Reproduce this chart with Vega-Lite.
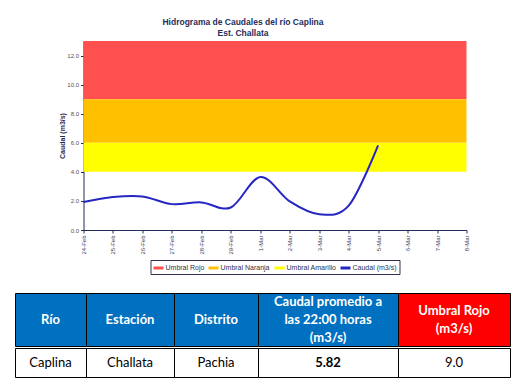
{
  "$schema": "https://vega.github.io/schema/vega-lite/v6.json",
  "background": "white",
  "padding": {"left": 14, "top": 18, "right": 0, "bottom": 0},
  "config": {"view": {"stroke": null}, "font": "Liberation Sans", "legend": {"layout": {"bottom": {"anchor": "middle"}}}},
  "center": true,
  "spacing": 17,
  "resolve": {"scale": {"color": "independent"}, "legend": {"color": "independent"}},
  "vconcat": [
    {
      "width": 383,
      "height": 189,
      "title": {"text": ["Hidrograma de Caudales del río Caplina", "Est. Challata"], "fontSize": 8.5, "fontWeight": "bold", "color": "#1F2D5A", "dx": -32, "offset": 4, "lineHeight": 10.5},
      "layer": [
        {
          "data": {"values": [
            {"serie": "Umbral Rojo", "desde": 9, "hasta": 13},
            {"serie": "Umbral Naranja", "desde": 6, "hasta": 9},
            {"serie": "Umbral Amarillo", "desde": 4, "hasta": 6}
          ]},
          "mark": {"type": "rect"},
          "encoding": {
            "y": {"field": "desde", "type": "quantitative",
              "scale": {"domain": [0, 13], "nice": false, "zero": true},
              "axis": {"title": "Caudal (m3/s)", "titleFontSize": 7, "titleFontWeight": "bold", "titleColor": "#1F2D5A", "values": [0, 2, 4, 6, 8, 10, 12], "format": ".1f", "labelOverlap": false, "labelFlush": false, "labelFontSize": 6, "labelColor": "#505060", "tickSize": 3, "tickColor": "#1F2D5A", "domainColor": "#1F2D5A", "grid": false, "titlePadding": 1}},
            "y2": {"field": "hasta"},
            "color": {"field": "serie", "type": "nominal"}
          }
        },
        {
          "data": {"values": [
            {"fecha": "24-Feb", "caudal": 1.92, "serie": "Caudal (m3/s)"},
            {"fecha": "25-Feb", "caudal": 2.27, "serie": "Caudal (m3/s)"},
            {"fecha": "26-Feb", "caudal": 2.31, "serie": "Caudal (m3/s)"},
            {"fecha": "27-Feb", "caudal": 1.78, "serie": "Caudal (m3/s)"},
            {"fecha": "28-Feb", "caudal": 1.9, "serie": "Caudal (m3/s)"},
            {"fecha": "29-Feb", "caudal": 1.55, "serie": "Caudal (m3/s)"},
            {"fecha": "1-Mar", "caudal": 3.65, "serie": "Caudal (m3/s)"},
            {"fecha": "2-Mar", "caudal": 1.97, "serie": "Caudal (m3/s)"},
            {"fecha": "3-Mar", "caudal": 1.09, "serie": "Caudal (m3/s)"},
            {"fecha": "4-Mar", "caudal": 1.67, "serie": "Caudal (m3/s)"},
            {"fecha": "5-Mar", "caudal": 5.82, "serie": "Caudal (m3/s)"}
          ]},
          "mark": {"type": "line", "interpolate": "cardinal", "strokeWidth": 2},
          "encoding": {
            "x": {
              "field": "fecha", "type": "ordinal",
              "scale": {"type": "point", "padding": 0, "domain": ["24-Feb","25-Feb","26-Feb","27-Feb","28-Feb","29-Feb","1-Mar","2-Mar","3-Mar","4-Mar","5-Mar","6-Mar","7-Mar","8-Mar"]},
              "axis": {"title": null, "labelAngle": 270, "labelFontSize": 6, "labelColor": "#404060", "labelOverlap": false, "tickSize": 3, "tickColor": "#1F2D5A", "domainColor": "#1F2D5A", "labelPadding": 2, "grid": false}
            },
            "y": {
              "field": "caudal", "type": "quantitative",
              "scale": {"domain": [0, 13], "nice": false, "zero": true},
              "axis": {"title": "Caudal (m3/s)", "titleFontSize": 7, "titleFontWeight": "bold", "titleColor": "#1F2D5A", "values": [0, 2, 4, 6, 8, 10, 12], "format": ".1f", "labelOverlap": false, "labelFlush": false, "labelFontSize": 6, "labelColor": "#505060", "tickSize": 3, "tickColor": "#1F2D5A", "domainColor": "#1F2D5A", "grid": false, "titlePadding": 1}
            },
            "color": {
              "field": "serie", "type": "nominal",
              "scale": {"domain": ["Umbral Rojo", "Umbral Naranja", "Umbral Amarillo", "Caudal (m3/s)"], "range": ["#FF5050", "#FFC000", "#FFFF00", "#2626C2"]},
              "legend": {"title": null, "orient": "bottom", "direction": "horizontal", "symbolType": "M-1,-0.3H1V0.3H-1Z", "symbolSize": 100, "symbolStrokeWidth": 0, "labelFontSize": 7, "labelColor": "#303050", "strokeColor": "#303050", "padding": 3, "columnPadding": 4, "labelOffset": 2, "offset": 5}
            }
          }
        }
      ]
    },
    {
      "spacing": 0,
      "vconcat": [
        {
          "spacing": 0,
          "bounds": "flush",
          "hconcat": [
            {"width": 71, "height": 53, "view": {"fill": "#0070C0", "stroke": "black", "strokeWidth": 1}, "data": {"values": [{"t": "Río"}]}, "mark": {"type": "text", "font": "Lato", "fontWeight": "bold", "fontSize": 13, "color": "white", "lineBreak": "\n", "lineHeight": 18}, "encoding": {"text": {"field": "t"}}},
            {"width": 88, "height": 53, "view": {"fill": "#0070C0", "stroke": "black", "strokeWidth": 1}, "data": {"values": [{"t": "Estación"}]}, "mark": {"type": "text", "font": "Lato", "fontWeight": "bold", "fontSize": 13, "color": "white", "lineBreak": "\n", "lineHeight": 18}, "encoding": {"text": {"field": "t"}}},
            {"width": 84, "height": 53, "view": {"fill": "#0070C0", "stroke": "black", "strokeWidth": 1}, "data": {"values": [{"t": "Distrito"}]}, "mark": {"type": "text", "font": "Lato", "fontWeight": "bold", "fontSize": 13, "color": "white", "lineBreak": "\n", "lineHeight": 18}, "encoding": {"text": {"field": "t"}}},
            {"width": 140, "height": 53, "view": {"fill": "#0070C0", "stroke": "black", "strokeWidth": 1}, "data": {"values": [{"t": "Caudal promedio a\nlas 22:00 horas\n(m3/s)"}]}, "mark": {"type": "text", "font": "Lato", "fontWeight": "bold", "fontSize": 13, "color": "white", "lineBreak": "\n", "lineHeight": 18, "dy": -18}, "encoding": {"text": {"field": "t"}}},
            {"width": 112, "height": 53, "view": {"fill": "#FF0000", "stroke": "black", "strokeWidth": 1}, "data": {"values": [{"t": "Umbral Rojo\n(m3/s)"}]}, "mark": {"type": "text", "font": "Lato", "fontWeight": "bold", "fontSize": 13, "color": "white", "lineBreak": "\n", "lineHeight": 18, "dy": -9}, "encoding": {"text": {"field": "t"}}},
            {"width": 28, "height": 53, "data": {"values": [{"t": ""}]}, "mark": {"type": "text"}, "encoding": {"text": {"field": "t"}}}
          ]
        },
        {
          "spacing": 0,
          "bounds": "flush",
          "hconcat": [
            {"width": 71, "height": 29, "view": {"fill": "white", "stroke": "black", "strokeWidth": 1}, "data": {"values": [{"t": "Caplina"}]}, "mark": {"type": "text", "font": "Lato", "fontSize": 13, "color": "black"}, "encoding": {"text": {"field": "t"}}},
            {"width": 88, "height": 29, "view": {"fill": "white", "stroke": "black", "strokeWidth": 1}, "data": {"values": [{"t": "Challata"}]}, "mark": {"type": "text", "font": "Lato", "fontSize": 13, "color": "black"}, "encoding": {"text": {"field": "t"}}},
            {"width": 84, "height": 29, "view": {"fill": "white", "stroke": "black", "strokeWidth": 1}, "data": {"values": [{"t": "Pachia"}]}, "mark": {"type": "text", "font": "Lato", "fontSize": 13, "color": "black"}, "encoding": {"text": {"field": "t"}}},
            {"width": 140, "height": 29, "view": {"fill": "white", "stroke": "black", "strokeWidth": 1}, "data": {"values": [{"t": "5.82"}]}, "mark": {"type": "text", "font": "Lato", "fontWeight": "bold", "fontSize": 13, "color": "black"}, "encoding": {"text": {"field": "t"}}},
            {"width": 112, "height": 29, "view": {"fill": "white", "stroke": "black", "strokeWidth": 1}, "data": {"values": [{"t": "9.0"}]}, "mark": {"type": "text", "font": "Lato", "fontSize": 13, "color": "black"}, "encoding": {"text": {"field": "t"}}},
            {"width": 28, "height": 29, "data": {"values": [{"t": ""}]}, "mark": {"type": "text"}, "encoding": {"text": {"field": "t"}}}
          ]
        }
      ]
    }
  ]
}
